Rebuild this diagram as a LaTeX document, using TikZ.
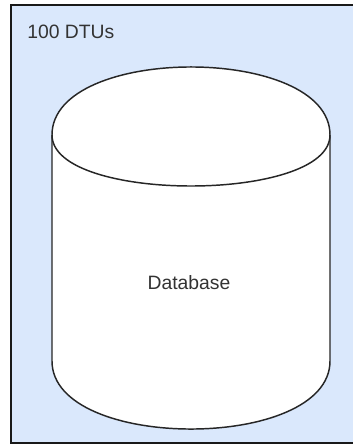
\documentclass[tikz,border=0pt]{standalone}
\usepackage{fontspec}
\setmainfont{Liberation Sans}
\definecolor{panelblue}{HTML}{DAE8FC}
\definecolor{labelgray}{HTML}{333333}

\begin{document}
\begin{tikzpicture}[x=0.75pt,y=-0.75pt,
  labeltext/.style={text=labelgray, inner sep=0pt, font=\fontsize{14.5}{17}\selectfont}]
\useasboundingbox (0,0) rectangle (353,444);
\fill[panelblue] (11,5) rectangle (353,443);
\draw[black!90, line width=1.7pt] (353,5) -- (11,5) -- (11,443) -- (353,443);
% cylinder
\filldraw[fill=white, draw=black!85, line width=1.1pt] (52,135) .. controls (52,44.3) and (330,44.3) .. (330,135) -- (330,361) .. controls (330,451.7) and (52,451.7) .. (52,361) -- cycle;
\draw[black!85, line width=1.1pt] (52,135) .. controls (52,203) and (330,203) .. (330,135);
\node[labeltext, anchor=west] (tier) at (27,32) {100 DTUs};
\node[labeltext] (db) at (189,283) {Database};
\end{tikzpicture}
\end{document}
